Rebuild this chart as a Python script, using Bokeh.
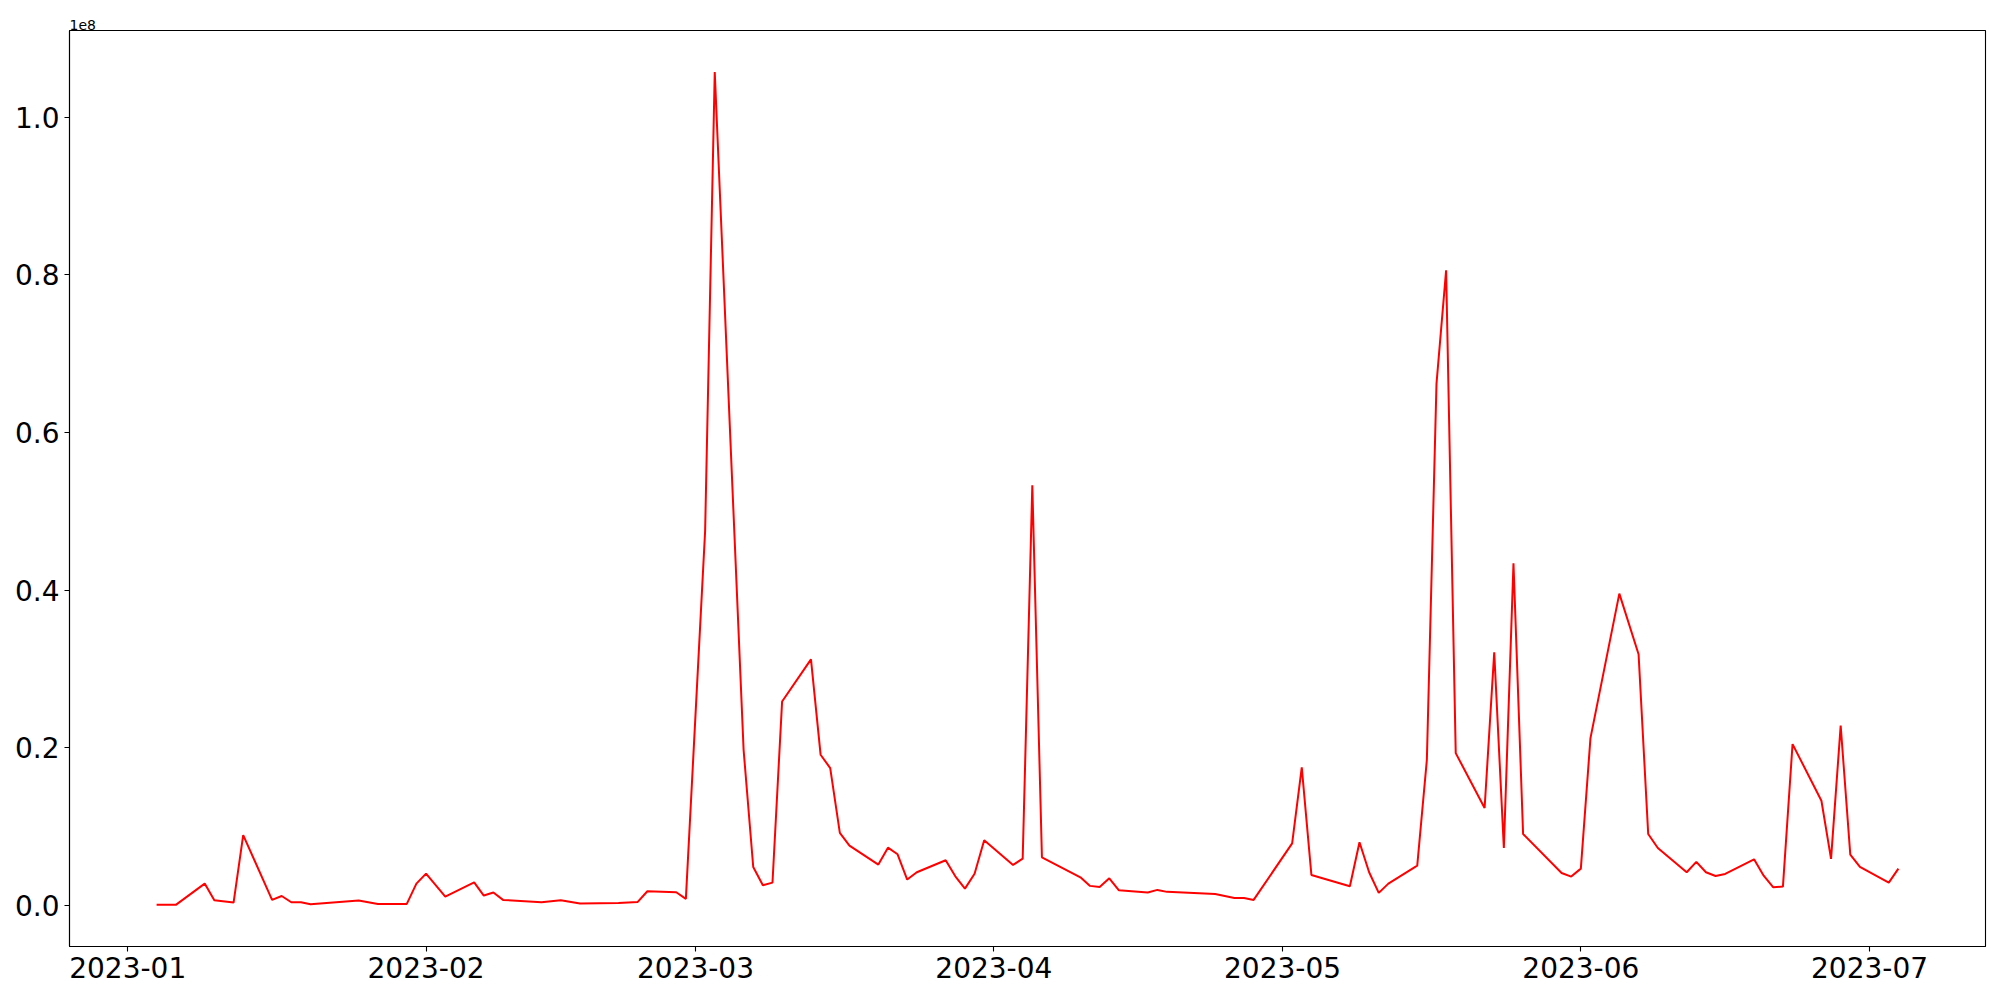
import pandas as pd
from bokeh.plotting import figure
from bokeh.models import Range1d, FixedTicker, DatetimeTickFormatter, Title
from bokeh.embed import file_html
from bokeh.resources import INLINE

dates = [
    "2023-01-04", "2023-01-06", "2023-01-09", "2023-01-10", "2023-01-12", "2023-01-13",
    "2023-01-16", "2023-01-17", "2023-01-18", "2023-01-19", "2023-01-20", "2023-01-25",
    "2023-01-27", "2023-01-30", "2023-01-31", "2023-02-01", "2023-02-03", "2023-02-06",
    "2023-02-07", "2023-02-08", "2023-02-09", "2023-02-13", "2023-02-15", "2023-02-17",
    "2023-02-21", "2023-02-23", "2023-02-24", "2023-02-27", "2023-02-28", "2023-03-02",
    "2023-03-03", "2023-03-06", "2023-03-07", "2023-03-08", "2023-03-09", "2023-03-10",
    "2023-03-13", "2023-03-14", "2023-03-15", "2023-03-16", "2023-03-17", "2023-03-20",
    "2023-03-21", "2023-03-22", "2023-03-23", "2023-03-24", "2023-03-27", "2023-03-28",
    "2023-03-29", "2023-03-30", "2023-03-31", "2023-04-03", "2023-04-04", "2023-04-05",
    "2023-04-06", "2023-04-10", "2023-04-11", "2023-04-12", "2023-04-13", "2023-04-14",
    "2023-04-17", "2023-04-18", "2023-04-19", "2023-04-24", "2023-04-26", "2023-04-27",
    "2023-04-28", "2023-05-02", "2023-05-03", "2023-05-04", "2023-05-08", "2023-05-09",
    "2023-05-10", "2023-05-11", "2023-05-12", "2023-05-15", "2023-05-16", "2023-05-17",
    "2023-05-18", "2023-05-19", "2023-05-22", "2023-05-23", "2023-05-24", "2023-05-25",
    "2023-05-26", "2023-05-30", "2023-05-31", "2023-06-01", "2023-06-02", "2023-06-05",
    "2023-06-07", "2023-06-08", "2023-06-09", "2023-06-12", "2023-06-13", "2023-06-14",
    "2023-06-15", "2023-06-16", "2023-06-19", "2023-06-20", "2023-06-21", "2023-06-22",
    "2023-06-23", "2023-06-26", "2023-06-27", "2023-06-28", "2023-06-29", "2023-06-30",
    "2023-07-03", "2023-07-04",
]

values = [
    0.04e6, 0.04e6, 2.74e6, 0.62e6, 0.33e6, 8.9e6,
    0.67e6, 1.17e6, 0.37e6, 0.37e6, 0.12e6, 0.58e6,
    0.16e6, 0.16e6, 2.74e6, 4.0e6, 1.09e6, 2.9e6,
    1.22e6, 1.6e6, 0.67e6, 0.37e6, 0.62e6, 0.2e6,
    0.29e6, 0.41e6, 1.77e6, 1.64e6, 0.8e6, 47.5e6,
    105.75e6, 19.7e6, 4.85e6, 2.53e6, 2.86e6, 25.86e6,
    31.2e6, 19.1e6, 17.4e6, 9.17e6, 7.56e6, 5.15e6,
    7.3e6, 6.46e6, 3.25e6, 4.18e6, 5.7e6, 3.67e6,
    2.1e6, 4.0e6, 8.23e6, 5.11e6, 5.91e6, 53.3e6,
    6.08e6, 3.54e6, 2.45e6, 2.32e6, 3.41e6, 1.89e6,
    1.6e6, 1.94e6, 1.69e6, 1.43e6, 0.92e6, 0.9e6,
    0.67e6, 7.85e6, 17.5e6, 3.84e6, 2.4e6, 7.98e6,
    4.18e6, 1.56e6, 2.74e6, 5.02e6, 18.46e6, 66.2e6,
    80.6e6, 19.3e6, 12.34e6, 32.1e6, 7.26e6, 43.4e6,
    9.04e6, 4.09e6, 3.63e6, 4.64e6, 21.2e6, 39.55e6,
    31.86e6, 9.04e6, 7.26e6, 4.18e6, 5.49e6, 4.18e6,
    3.71e6, 3.97e6, 5.82e6, 3.75e6, 2.27e6, 2.36e6,
    20.45e6, 13.26e6, 5.87e6, 22.8e6, 6.42e6, 4.85e6,
    2.86e6, 4.64e6,
]

x_tick_dates = ["2023-01-01", "2023-02-01", "2023-03-01", "2023-04-01",
                "2023-05-01", "2023-06-01", "2023-07-01"]
y_ticks = [0.0, 0.2e8, 0.4e8, 0.6e8, 0.8e8, 1.0e8]
y_tick_labels = ["0.0", "0.2", "0.4", "0.6", "0.8", "1.0"]
offset_text = "1e8"

x = pd.to_datetime(pd.Series(dates))
x_ms = [(d - pd.Timestamp("1970-01-01")).total_seconds() * 1000.0 for d in x]
span = x_ms[-1] - x_ms[0]
vmin, vmax = min(values), max(values)
vspan = vmax - vmin

p = figure(
    x_axis_type="datetime",
    frame_width=1916, frame_height=916,
    min_border_left=69, min_border_top=30, min_border_right=15, min_border_bottom=54,
    output_backend="svg", toolbar_location=None,
    x_range=Range1d(x_ms[0] - 0.05 * span, x_ms[-1] + 0.05 * span),
    y_range=Range1d(vmin - 0.05 * vspan, vmax + 0.05 * vspan),
)
p.background_fill_color = "white"
p.border_fill_color = "white"
p.outline_line_color = "black"
p.outline_line_width = 1.1
p.xgrid.visible = False
p.ygrid.visible = False

p.line(x_ms, values, line_color="red", line_width=2)

tick_ms = [(pd.Timestamp(d) - pd.Timestamp("1970-01-01")).total_seconds() * 1000.0 for d in x_tick_dates]
p.xaxis.ticker = FixedTicker(ticks=tick_ms)
fmt = "%Y-%m"
p.xaxis.formatter = DatetimeTickFormatter(
    microseconds=fmt, milliseconds=fmt, seconds=fmt, minsec=fmt, minutes=fmt,
    hourmin=fmt, hours=fmt, days=fmt, months=fmt, years=fmt)
p.yaxis.ticker = FixedTicker(ticks=y_ticks)
p.yaxis.major_label_overrides = {t: l for t, l in zip(y_ticks, y_tick_labels)}

for ax in (p.xaxis, p.yaxis):
    ax.major_label_text_font = "DejaVu Sans"
    ax.major_label_text_font_size = "28px"
    ax.major_label_text_color = "black"
    ax.major_tick_out = 5
    ax.major_tick_in = 0
    ax.major_tick_line_color = "black"
    ax.major_tick_line_width = 1.1
    ax.minor_tick_line_color = None
    ax.axis_line_color = "black"
    ax.axis_line_width = 1.1
    ax.major_label_standoff = 5

p.add_layout(Title(text=offset_text, align="left", text_font="DejaVu Sans",
                   text_font_size="14px", text_font_style="normal", text_color="black",
                   standoff=2, offset=0), "above")

open("out.html", "w").write(file_html(p, INLINE))
